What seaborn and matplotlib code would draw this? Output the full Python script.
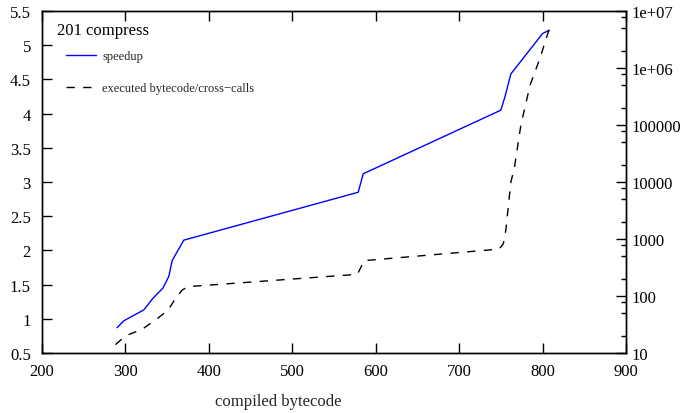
import matplotlib
matplotlib.use("Agg")
import matplotlib.pyplot as plt
import matplotlib.ticker as mticker
import seaborn as sns
import pandas as pd
import numpy as np

# speedup (left axis)
speed_x = [290, 298, 322, 333, 345, 352, 356, 362, 370, 579, 585, 750, 755, 762, 800, 808]
speed_y = [0.87, 0.97, 1.13, 1.30, 1.45, 1.62, 1.85, 1.98, 2.15, 2.85, 3.12, 4.05, 4.25, 4.58, 5.17, 5.22]

# executed bytecode / cross-calls (right, log axis)
exec_x = [288, 300, 320, 340, 350, 355, 360, 368, 375, 578, 583, 586, 748, 753, 756, 762, 766, 774, 785, 797, 810]
exec_y = [14, 20, 26, 42, 55, 69, 91, 127, 146, 240, 335, 417, 665, 830, 1450, 10000, 17000, 100000, 500000, 1500000, 6000000]

x_ticks = [200, 300, 400, 500, 600, 700, 800, 900]
y_ticks = [0.5, 1, 1.5, 2, 2.5, 3, 3.5, 4, 4.5, 5, 5.5]
y2_ticks = [10, 100, 1000, 10000, 100000, 1000000, 10000000]
y2_labels = ["10", "100", "1000", "10000", "100000", "1e+06", "1e+07"]

sns.set_theme(style="white")
plt.rcParams["font.family"] = ["Liberation Serif", "DejaVu Serif"]

W, H = 686, 414
L, R, T, B = 42, 626, 12, 354
fig = plt.figure(figsize=(W / 100, H / 100), dpi=100)
ax = fig.add_axes([L / W, (H - B) / H, (R - L) / W, (B - T) / H])
ax2 = ax.twinx()

df1 = pd.DataFrame({"x": speed_x, "y": speed_y})
df2 = pd.DataFrame({"x": exec_x, "y": exec_y})

sns.lineplot(data=df1, x="x", y="y", ax=ax, color="#0000ff", lw=1.0, sort=False, label="speedup")
sns.lineplot(data=df2, x="x", y="y", ax=ax2, color="black", lw=1.0, sort=False,
             label="executed bytecode/cross\u2212calls")
ax2.lines[0].set_dashes([6, 6])

ax.set_xlim(200, 900)
ax.set_ylim(0.5, 5.5)
ax.set_xticks(x_ticks)
ax.set_yticks(y_ticks)
ax.set_yticklabels([("%g" % v) for v in y_ticks])
ax.set_xlabel("compiled bytecode", fontsize=12)
ax.xaxis.set_label_coords(0.404, -0.118)
ax.set_ylabel("")

ax2.set_yscale("log")
ax2.set_ylim(10, 1e7)
ax2.yaxis.set_major_locator(mticker.FixedLocator(y2_ticks))
ax2.yaxis.set_major_formatter(mticker.FixedFormatter(y2_labels))
ax2.yaxis.set_minor_locator(mticker.LogLocator(base=10, subs=[2, 5, 8]))
ax2.yaxis.set_minor_formatter(mticker.NullFormatter())
ax2.set_ylabel("")

for a in (ax, ax2):
    for s in a.spines.values():
        s.set_color("black")
        s.set_linewidth(1.0)

ax.tick_params(axis="x", which="major", direction="in", length=7, width=1, top=True, bottom=True,
               labelsize=12, pad=7, colors="black")
ax.tick_params(axis="y", which="major", direction="in", length=7, width=1, left=True, right=False,
               labelsize=12, pad=8, colors="black")
ax2.tick_params(axis="y", which="major", direction="in", length=7, width=1, right=True,
                labelsize=12, pad=4, colors="black")
ax2.tick_params(axis="y", which="minor", direction="in", length=3.5, width=1, right=True, colors="black")

h1, l1 = ax.get_legend_handles_labels()
h2, l2 = ax2.get_legend_handles_labels()
if ax.get_legend():
    ax.get_legend().remove()
if ax2.get_legend():
    ax2.get_legend().remove()

ax2.text((57 - L) / (R - L), 1 - (31 - T) / (B - T), "201 compress", transform=ax2.transAxes,
         fontsize=12, ha="left", va="center", color="black")
leg = ax2.legend(h1 + h2, l1 + l2, loc="upper left", frameon=False,
                 fontsize=9, handlelength=2.4, handletextpad=0.5, labelspacing=1.6,
                 borderpad=0, borderaxespad=0,
                 bbox_to_anchor=((66 - L) / (R - L), 1 - (51 - T) / (B - T)))

fig.savefig("out.png", dpi=100)
